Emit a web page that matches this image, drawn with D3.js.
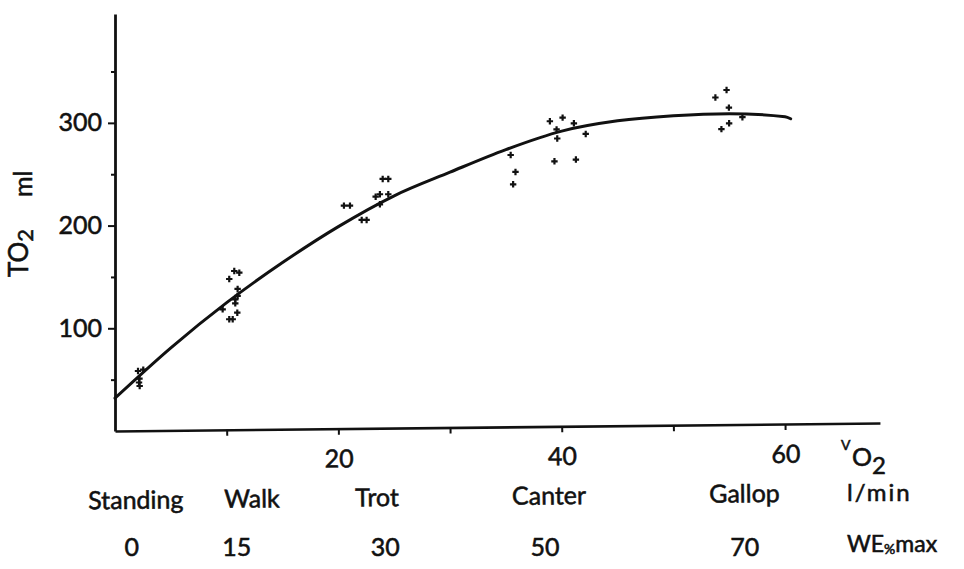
<!DOCTYPE html>
<html><head><meta charset="utf-8">
<script src="https://cdn.jsdelivr.net/npm/d3@7"></script>
<style>
html,body{margin:0;padding:0;background:#fff;}
svg{display:block;font-family:Lato,"Open Sans",sans-serif;}
svg text{stroke:#111;stroke-width:0.55px;}
</style></head><body>
<svg id="chart" width="964" height="569"></svg>
<script>
// ---- data ----
// fitted curve: oxygen transport TO2 (ml) against VO2 (l/min)
const curveVO2 = [0, 5, 10, 15, 20, 25, 30, 35, 40, 45, 50, 55, 60, 60.5];
const curveTO2 = [32, 81, 125, 164, 199, 229, 252, 274, 292, 302, 307, 309, 306, 304];

// measured points (crosses)
const pointVO2 = [
  2.06, 2.53, 2.19, 2.15, 2.21,
  10.23, 10.68, 11.13, 10.98, 10.98, 10.77, 10.77, 9.64, 10.95, 10.23, 10.54,
  20.50, 21.04, 22.09, 22.53, 23.34, 23.72, 24.47, 23.72, 23.97, 24.47,
  38.94, 40.08, 41.09, 39.54, 39.60, 42.15, 35.43, 35.86, 35.65, 39.35, 41.27,
  54.76, 53.76, 54.97, 56.18, 54.99, 54.30
];
const pointTO2 = [
  58.4, 59.7, 50.9, 47.2, 43.8,
  148.0, 155.8, 154.1, 138.3, 131.5, 128.2, 124.3, 118.5, 115.2, 108.8, 108.8,
  219.4, 219.4, 205.5, 205.5, 228.1, 230.5, 230.5, 220.7, 245.4, 245.4,
  301.6, 305.1, 299.6, 293.6, 284.8, 289.2, 268.7, 252.2, 240.2, 262.6, 264.3,
  332.0, 324.7, 314.8, 305.5, 299.6, 293.9
];

const xTickValues = [10, 20, 30, 40, 50, 60];
const xTickLabels = ["", "20", "", "40", "", "60"];
const yTickValues = [50, 100, 150, 200, 250, 300, 350];
const yTickLabels = ["", "100", "", "200", "", "300", ""];
const gaits = ["Standing", "Walk", "Trot", "Canter", "Gallop"];
const gaitWE = ["0", "15", "30", "50", "70"];

// ---- layout (label anchor positions in VO2 units) ----
const gaitLabelAt = [1.8, 12.2, 23.4, 38.8, 56.3];
const weLabelAt = [1.5, 10.9, 24.2, 38.5, 56.4];

const svg = d3.select("#chart");
const x = d3.scaleLinear().domain([0, 68.5]).range([115, 880]);
const y = d3.scaleLinear().domain([0, 406]).range([431, 14]);
const ink = "#111";

// x axis group (scan is slightly tilted)
const gx = svg.append("g").attr("transform", "rotate(-0.6,115,431)");
const xAxis = d3.axisBottom(x).tickValues(xTickValues)
  .tickFormat((d, i) => xTickLabels[i]).tickSize(6).tickSizeOuter(0).tickPadding(15);
const ax = gx.append("g").attr("transform", "translate(0,431)").call(xAxis);
ax.select(".domain").attr("stroke", ink).attr("stroke-width", 2.6);
ax.selectAll(".tick line").attr("stroke", ink).attr("stroke-width", 2);
ax.selectAll(".tick text").attr("fill", ink).attr("font-size", 25).attr("font-family", "Lato");

// gait names row
gx.selectAll("text.gait").data(gaits).join("text").attr("class", "gait")
  .attr("x", (d, i) => x(gaitLabelAt[i])).attr("y", 509)
  .attr("text-anchor", "middle").attr("font-size", 25).attr("fill", ink).text(d => d);

// WE row
svg.selectAll("text.we").data(gaitWE).join("text").attr("class", "we")
  .attr("x", (d, i) => x(weLabelAt[i])).attr("y", 556)
  .attr("text-anchor", "middle").attr("font-size", 25).attr("fill", ink).text(d => d);

// y axis
const yAxis = d3.axisLeft(y).tickValues(yTickValues)
  .tickFormat((d, i) => yTickLabels[i]).tickSize(7).tickSizeOuter(0).tickPadding(6);
const ay = svg.append("g").attr("transform", "translate(115,0)").call(yAxis);
ay.select(".domain").attr("stroke", ink).attr("stroke-width", 2.8);
ay.selectAll(".tick line").attr("stroke", ink).attr("stroke-width", 2)
  .attr("x2", (d, i) => yTickLabels[i] ? -7 : -4);
ay.selectAll(".tick text").attr("fill", ink).attr("font-size", 25).attr("font-family", "Lato");

// y axis title: TO2 ml
const yt = svg.append("text").attr("transform", "translate(28,277) rotate(-90)")
  .attr("font-size", 26).attr("fill", ink);
yt.append("tspan").text("TO");
yt.append("tspan").attr("dy", 5).attr("font-size", 22).text("2");
svg.append("text").attr("transform", "translate(32,197) rotate(-90)")
  .attr("font-size", 25).attr("fill", ink).text("ml");

// x axis unit: VO2 l/min
svg.append("text").attr("x", 841).attr("y", 450).attr("font-size", 14).attr("fill", ink).text("V");
const xo = svg.append("text").attr("x", 852).attr("y", 466).attr("font-size", 25).attr("fill", ink);
xo.append("tspan").text("O");
xo.append("tspan").attr("dy", 8).attr("font-size", 24).text("2");
svg.append("text").attr("x", 847).attr("y", 501).attr("font-size", 24)
  .attr("letter-spacing", 2).attr("fill", ink).text("l/min");
const we = svg.append("text").attr("x", 847).attr("y", 552).attr("fill", ink);
we.append("tspan").attr("font-size", 23).text("WE");
we.append("tspan").attr("font-size", 14).attr("dy", 2).text("%");
we.append("tspan").attr("font-size", 23).attr("dy", -2).text("max");

// fitted curve
const line = d3.line().x(d => x(d[0])).y(d => y(d[1])).curve(d3.curveMonotoneX);
svg.append("path").datum(curveVO2.map((v, i) => [v, curveTO2[i]]))
  .attr("d", line).attr("fill", "none").attr("stroke", ink)
  .attr("stroke-width", 3).attr("stroke-linecap", "round");

// crosses
svg.append("g").selectAll("path").data(pointVO2.map((v, i) => [v, pointTO2[i]]))
  .join("path")
  .attr("d", d => `M${x(d[0]) - 3.2},${y(d[1])}h6.4M${x(d[0])},${y(d[1]) - 3.2}v6.4`)
  .attr("stroke", ink).attr("stroke-width", 2.2).attr("fill", "none");
</script>
</body></html>
